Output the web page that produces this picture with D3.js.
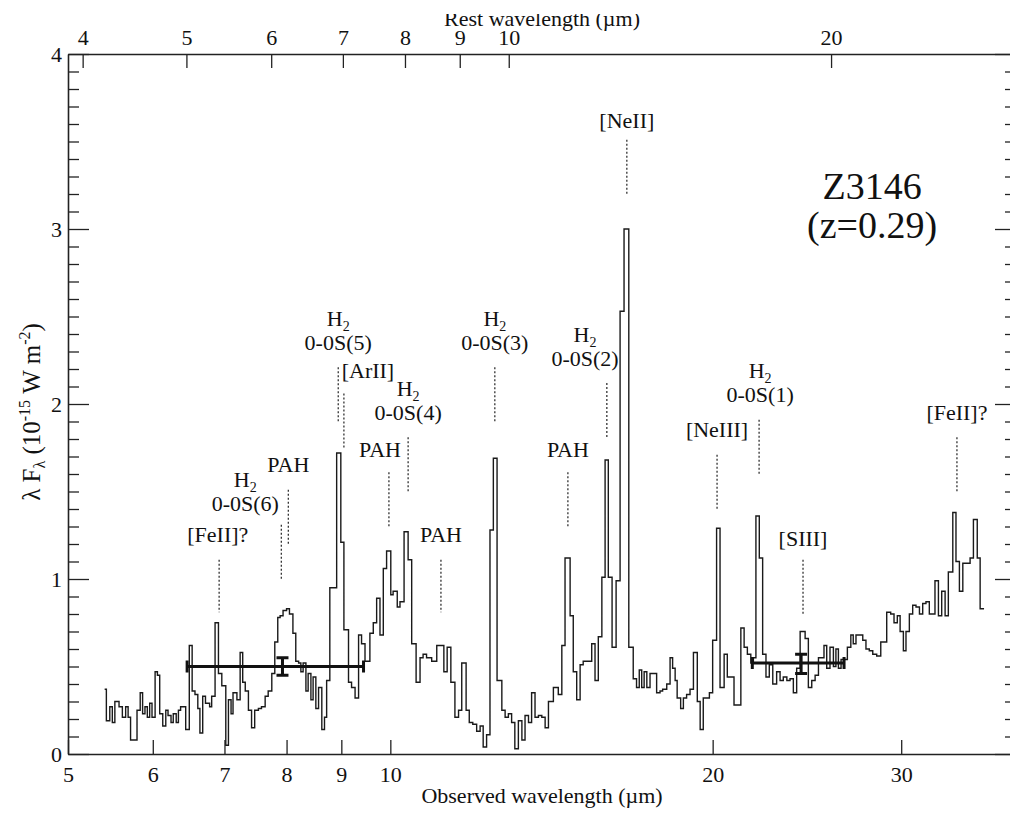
<!DOCTYPE html>
<html>
<head>
<meta charset="utf-8">
<script src="https://cdn.jsdelivr.net/npm/d3@7"></script>
<style>
  body { margin: 0; background: #fff; }
  svg text { font-family: 'Liberation Serif', 'Times New Roman', serif; fill: #111; }
</style>
</head>
<body>
<div id="canvas"></div>
<script>
'use strict';

const SOURCE_NAME = 'Z3146';
const REDSHIFT = 0.29;

// Observed wavelength (µm) of the left edge of every bin, and its flux.
const specWave = [
  5.41, 5.43, 5.47, 5.50, 5.53, 5.58, 5.62, 5.66, 5.69, 5.72, 5.80, 5.84,
  5.87, 5.90, 5.93, 5.96, 5.99, 6.03, 6.06, 6.09, 6.13, 6.17, 6.20, 6.24,
  6.27, 6.31, 6.34, 6.37, 6.44, 6.49, 6.53, 6.57, 6.61, 6.64, 6.68, 6.72,
  6.78, 6.81, 6.86, 6.91, 6.96, 7.02, 7.06, 7.10, 7.13, 7.19, 7.24, 7.28,
  7.32, 7.37, 7.42, 7.47, 7.53, 7.58, 7.64, 7.69, 7.75, 7.80, 7.85, 7.89,
  7.94, 8.00, 8.05, 8.11, 8.16, 8.21, 8.25, 8.29, 8.34, 8.38, 8.43, 8.47,
  8.52, 8.57, 8.63, 8.68, 8.72, 8.78, 8.91, 8.99, 9.05, 9.14, 9.20, 9.27,
  9.34, 9.40, 9.47, 9.57, 9.64, 9.71, 9.78, 9.85, 9.92, 10.01, 10.06, 10.15,
  10.21, 10.30, 10.39, 10.47, 10.57, 10.66, 10.73, 10.81, 10.93, 11.05, 11.22, 11.30,
  11.39, 11.49, 11.58, 11.66, 11.77, 11.85, 11.94, 12.04, 12.13, 12.21, 12.30, 12.39,
  12.48, 12.58, 12.71, 12.80, 12.89, 12.98, 13.07, 13.17, 13.27, 13.36, 13.46, 13.55,
  13.65, 13.75, 13.85, 13.95, 14.05, 14.20, 14.35, 14.46, 14.56, 14.72, 14.82, 14.93,
  15.04, 15.14, 15.42, 15.53, 15.64, 15.76, 15.87, 15.98, 16.11, 16.25, 16.39, 16.53,
  16.70, 16.86, 16.98, 17.08, 17.17, 17.26, 17.36, 17.48, 17.73, 17.86, 17.96, 18.12,
  18.25, 18.35, 18.45, 18.53, 18.67, 18.78, 18.91, 19.05, 19.19, 19.35, 19.47, 19.60,
  19.86, 20.00, 20.17, 20.32, 20.50, 20.64, 20.94, 21.25, 21.40, 21.55, 21.71, 21.83,
  21.95, 22.11, 22.27, 22.43, 22.59, 22.76, 22.95, 23.12, 23.28, 23.46, 23.62, 23.79,
  23.96, 24.14, 24.40, 24.57, 24.75, 24.93, 25.11, 25.41, 25.56, 25.74, 25.93, 26.07,
  26.21, 26.36, 26.72, 26.92, 27.06, 27.22, 27.62, 27.81, 28.01, 28.22, 28.46, 28.71,
  29.08, 29.33, 29.54, 29.75, 29.93, 30.14, 30.31, 30.53, 30.75, 30.97, 31.20, 31.42,
  31.64, 31.87, 32.26, 32.50, 32.73, 32.97, 33.20, 33.52, 33.75, 34.00, 34.25, 34.79,
  35.04, 35.33, 35.55,
];
const specFlux = [
  0.37, 0.19, 0.27, 0.18, 0.30, 0.27, 0.21, 0.27, 0.21, 0.08, 0.25, 0.35,
  0.23, 0.27, 0.21, 0.29, 0.21, 0.47, 0.45, 0.23, 0.16, 0.25, 0.22, 0.18,
  0.23, 0.18, 0.25, 0.27, 0.14, 0.62, 0.36, 0.34, 0.26, 0.12, 0.33, 0.29,
  0.27, 0.33, 0.75, 0.46, 0.39, 0.05, 0.31, 0.23, 0.35, 0.31, 0.58, 0.41,
  0.36, 0.25, 0.15, 0.25, 0.26, 0.27, 0.33, 0.36, 0.46, 0.64, 0.78, 0.79,
  0.82, 0.83, 0.80, 0.69, 0.53, 0.52, 0.47, 0.52, 0.36, 0.46, 0.31, 0.44,
  0.26, 0.38, 0.14, 0.21, 0.42, 0.95, 1.72, 1.21, 0.71, 0.41, 0.38, 0.32,
  0.68, 0.63, 0.53, 0.69, 0.75, 0.89, 0.68, 1.06, 1.16, 0.91, 0.93, 0.84,
  0.87, 1.27, 1.11, 0.63, 0.41, 0.55, 0.57, 0.55, 0.53, 0.62, 0.47, 0.61,
  0.41, 0.21, 0.25, 0.52, 0.25, 0.18, 0.17, 0.13, 0.16, 0.04, 0.11, 1.28,
  1.69, 0.42, 0.25, 0.21, 0.23, 0.18, 0.03, 0.19, 0.08, 0.22, 0.18, 0.35,
  0.21, 0.22, 0.21, 0.15, 0.30, 0.38, 0.34, 0.62, 1.12, 0.79, 0.47, 0.31,
  0.51, 0.53, 0.63, 0.42, 0.67, 1.01, 1.68, 1.01, 0.61, 0.99, 2.53, 3.00,
  0.61, 0.43, 0.38, 0.48, 0.38, 0.47, 0.38, 0.46, 0.35, 0.36, 0.37, 0.40,
  0.55, 0.49, 0.42, 0.32, 0.26, 0.32, 0.34, 0.37, 0.58, 0.30, 0.14, 0.32,
  0.35, 0.65, 1.29, 0.38, 0.57, 0.44, 0.28, 0.72, 0.61, 0.57, 0.52, 0.55,
  1.36, 1.12, 0.57, 0.44, 0.51, 0.40, 0.47, 0.42, 0.44, 0.42, 0.43, 0.35,
  0.49, 0.70, 0.66, 0.38, 0.42, 0.45, 0.55, 0.62, 0.49, 0.61, 0.50, 0.60,
  0.49, 0.54, 0.61, 0.68, 0.63, 0.68, 0.65, 0.60, 0.59, 0.57, 0.56, 0.64,
  0.81, 0.80, 0.75, 0.79, 0.70, 0.59, 0.70, 0.80, 0.85, 0.84, 0.80, 0.86,
  0.87, 0.80, 0.99, 0.79, 0.93, 0.79, 1.04, 1.38, 1.10, 0.93, 1.09, 1.12,
  1.34, 1.12, 0.83,
];
// Right edge of the last bin.
const specEnd = 35.85;

const bottomTicks = [5, 6, 7, 8, 9, 10, 20, 30];
const topTicks = [4, 5, 6, 7, 8, 9, 10, 20];
const yTicks = [0, 1, 2, 3, 4];

// Broad-band photometry points with their band widths and errors.
const photWaveLow = [6.46, 21.78];
const photWaveHigh = [9.44, 26.53];
const photWaveMid = [7.93, 24.19];
const photFlux = [0.50, 0.52];
const photFluxLow = [0.45, 0.46];
const photFluxHigh = [0.55, 0.57];

// Line identifications. '|' separates the rows of a label.
const lineNames = [
  '[FeII]?', 'H2|0-0S(6)', 'PAH', 'H2|0-0S(5)', '[ArII]', 'H2|0-0S(4)',
  'PAH', 'PAH', 'H2|0-0S(3)', 'PAH', 'H2|0-0S(2)', '[NeII]', '[NeIII]',
  'H2|0-0S(1)', '[SIII]', '[FeII]?',
];
const lineWave = [
  6.92, 7.91, 8.03, 8.94, 9.05, 10.39, 9.97, 11.15, 12.52, 14.65, 15.93,
  16.63, 20.19, 22.10, 24.29, 33.82,
];
const lineTop = [
  1.11, 1.31, 1.51, 2.21, 2.06, 1.81, 1.61, 1.11, 2.21, 1.61, 2.12, 3.51,
  1.71, 1.91, 1.11, 1.81,
];
const lineBottom = [
  0.81, 0.99, 1.19, 1.89, 1.75, 1.49, 1.30, 0.81, 1.89, 1.29, 1.81, 3.19,
  1.39, 1.59, 0.79, 1.50,
];
const labelWave = [
  6.90, 7.32, 8.03, 8.94, 9.53, 10.39, 9.78, 11.15, 12.52, 14.65, 15.20,
  16.63, 20.19, 22.15, 24.29, 33.82,
];
const labelFlux = [
  1.21, 1.39, 1.61, 2.31, 2.15, 1.91, 1.70, 1.21, 2.31, 1.70, 2.22, 3.58,
  1.81, 2.01, 1.19, 1.91,
];

// Where the source name sits (wavelength, flux of each row's baseline).
const nameWave = 28.18;
const nameFlux = [3.17, 2.95];

/**
 * Draws the mid-infrared spectrum with its line identifications.
 */
class SpectrumPlotter {
  constructor(selector) {
    /** @private @const {number} */
    this.width_ = 1010;
    /** @private @const {number} */
    this.height_ = 813;
    /** @private @const {Object} Pixel edges of the plot box. */
    this.box_ = {left: 68, right: 1016, top: 54, bottom: 754};
    this.fontSize_ = 22;
    this.ink_ = '#111';

    this.svg_ = d3.select(selector).append('svg')
        .attr('width', this.width_)
        .attr('height', this.height_)
        .style('display', 'block');

    this.x_ = d3.scaleLog()
        .domain([5, 38.4])
        .range([this.box_.left, this.box_.right]);
    // Rest-frame axis shares the pixels of the observed one.
    this.xRest_ = d3.scaleLog()
        .domain(this.x_.domain().map(w => w / (1 + REDSHIFT)))
        .range(this.x_.range());
    this.y_ = d3.scaleLinear()
        .domain([0, 4])
        .range([this.box_.bottom, this.box_.top]);
  }

  draw() {
    this.drawAxes_();
    this.drawSpectrum_();
    this.drawPhotometry_();
    this.drawLineIds_();
    this.drawSourceName_();
  }

  styleAxis_(g, keepDomain) {
    g.attr('color', '#222')
        .attr('font-size', this.fontSize_)
        .attr('font-family', null);
    g.selectAll('line').attr('stroke-width', 1.3);
    if (keepDomain) {
      g.select('.domain').attr('stroke-width', 1.6);
    } else {
      g.select('.domain').remove();
    }
  }

  drawAxes_() {
    const {left, right, top, bottom} = this.box_;
    const minor = d3.range(0, 40.5, 1)
        .map(v => v / 10)
        .filter(v => !yTicks.includes(v));

    this.svg_.append('g')
        .attr('transform', `translate(0,${bottom})`)
        .call(d3.axisBottom(this.x_)
            .tickValues(bottomTicks)
            .tickFormat(d3.format('d'))
            .tickSize(-14)
            .tickSizeOuter(0)
            .tickPadding(12))
        .call(g => this.styleAxis_(g, true));

    this.svg_.append('g')
        .attr('transform', `translate(0,${top})`)
        .call(d3.axisTop(this.xRest_)
            .tickValues(topTicks)
            .tickFormat(d3.format('d'))
            .tickSize(-14)
            .tickSizeOuter(0)
            .tickPadding(9))
        .call(g => this.styleAxis_(g, true));

    this.svg_.append('g')
        .attr('transform', `translate(${left},0)`)
        .call(d3.axisLeft(this.y_)
            .tickValues(yTicks)
            .tickFormat(d3.format('d'))
            .tickSize(-21)
            .tickSizeOuter(0)
            .tickPadding(6))
        .call(g => this.styleAxis_(g, true));
    this.svg_.append('g')
        .attr('transform', `translate(${left},0)`)
        .call(d3.axisLeft(this.y_).tickValues(minor).tickFormat('')
            .tickSize(-11))
        .call(g => this.styleAxis_(g, false));

    this.svg_.append('g')
        .attr('transform', `translate(${right},0)`)
        .call(d3.axisRight(this.y_).tickValues(yTicks).tickFormat('')
            .tickSize(-21).tickSizeOuter(0))
        .call(g => this.styleAxis_(g, true));
    this.svg_.append('g')
        .attr('transform', `translate(${right},0)`)
        .call(d3.axisRight(this.y_).tickValues(minor).tickFormat('')
            .tickSize(-11))
        .call(g => this.styleAxis_(g, false));

    const midX = (left + right) / 2;
    this.svg_.append('text')
        .attr('x', midX)
        .attr('y', 803)
        .attr('text-anchor', 'middle')
        .attr('font-size', this.fontSize_)
        .text('Observed wavelength (\u00b5m)');

    // The rest-frame title is cut along its top in the original figure.
    this.svg_.append('defs').append('clipPath')
        .attr('id', 'top-title-clip')
        .append('rect')
        .attr('x', 0).attr('y', 14)
        .attr('width', this.width_).attr('height', 40);
    this.svg_.append('text')
        .attr('x', midX)
        .attr('y', 26)
        .attr('text-anchor', 'middle')
        .attr('font-size', this.fontSize_)
        .attr('clip-path', 'url(#top-title-clip)')
        .text('Rest wavelength (\u00b5m)');

    const yTitle = this.svg_.append('text')
        .attr('transform', `translate(40,${(top + bottom) / 2 + 8}) rotate(-90)`)
        .attr('text-anchor', 'middle')
        .attr('font-size', 25);
    yTitle.append('tspan').text('\u03bb F');
    yTitle.append('tspan').attr('font-size', 16).attr('dy', 5).text('\u03bb');
    yTitle.append('tspan').attr('dy', -5).text(' (10');
    yTitle.append('tspan').attr('font-size', 16).attr('dy', -10).text('-15');
    yTitle.append('tspan').attr('dy', 10).text(' W m');
    yTitle.append('tspan').attr('font-size', 16).attr('dy', -10).text('-2');
    yTitle.append('tspan').attr('dy', 10).text(')');
  }

  drawSpectrum_() {
    const points = specWave.map((w, i) => [w, specFlux[i]]);
    points.push([specEnd, specFlux[specFlux.length - 1]]);
    const path = d3.line()
        .x(d => this.x_(d[0]))
        .y(d => this.y_(d[1]))
        .curve(d3.curveStepAfter);
    this.svg_.append('path')
        .datum(points)
        .attr('d', path)
        .attr('fill', 'none')
        .attr('stroke', '#1a1a1a')
        .attr('stroke-width', 1.4);
  }

  drawPhotometry_() {
    const cap = 6;
    const g = this.svg_.append('g')
        .attr('stroke', this.ink_)
        .attr('stroke-width', 3)
        .attr('fill', 'none');
    photFlux.forEach((flux, i) => {
      const yc = this.y_(flux);
      const x0 = this.x_(photWaveLow[i]);
      const x1 = this.x_(photWaveHigh[i]);
      const xm = this.x_(photWaveMid[i]);
      const yLo = this.y_(photFluxLow[i]);
      const yHi = this.y_(photFluxHigh[i]);
      g.append('path').attr('d',
          `M${x0},${yc}H${x1}` +
          `M${x0},${yc - cap}V${yc + cap}` +
          `M${x1},${yc - cap}V${yc + cap}` +
          `M${xm},${yLo}V${yHi}` +
          `M${xm - cap},${yLo}H${xm + cap}` +
          `M${xm - cap},${yHi}H${xm + cap}`);
    });
  }

  appendRow_(anchor, row, yPos) {
    const t = this.svg_.append('text')
        .attr('x', anchor.x)
        .attr('y', yPos)
        .attr('text-anchor', 'middle')
        .attr('font-size', this.fontSize_);
    if (row === 'H2') {
      t.append('tspan').text('H');
      t.append('tspan').attr('font-size', 14).attr('dy', 5).text('2');
    } else {
      t.text(row);
    }
  }

  drawLineIds_() {
    const rowGap = 24;
    lineNames.forEach((name, i) => {
      const lx = this.x_(lineWave[i]);
      this.svg_.append('line')
          .attr('x1', lx).attr('x2', lx)
          .attr('y1', this.y_(lineTop[i]))
          .attr('y2', this.y_(lineBottom[i]))
          .attr('stroke', '#222')
          .attr('stroke-width', 1.2)
          .attr('stroke-dasharray', '2,2');
      const rows = name.split('|');
      const base = this.y_(labelFlux[i]);
      const anchor = {x: this.x_(labelWave[i])};
      rows.forEach((row, r) => {
        this.appendRow_(anchor, row, base - (rows.length - 1 - r) * rowGap);
      });
    });
  }

  drawSourceName_() {
    const rows = [SOURCE_NAME, `(z=${REDSHIFT})`];
    rows.forEach((row, i) => {
      this.svg_.append('text')
          .attr('x', this.x_(nameWave))
          .attr('y', this.y_(nameFlux[i]))
          .attr('text-anchor', 'middle')
          .attr('font-size', 38)
          .text(row);
    });
  }
}

new SpectrumPlotter('#canvas').draw();
</script>
</body>
</html>
